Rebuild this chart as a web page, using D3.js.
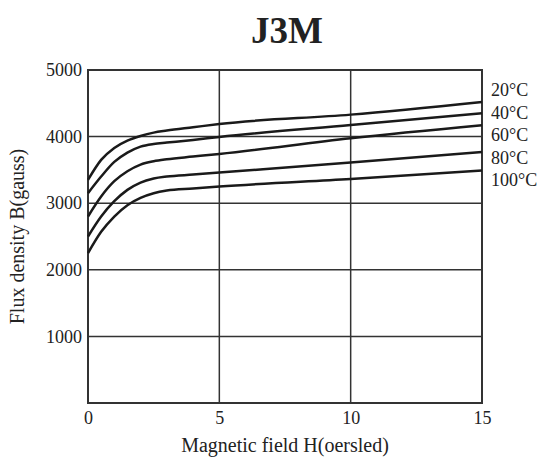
<!DOCTYPE html>
<html>
<head>
<meta charset="utf-8">
<script src="https://cdn.jsdelivr.net/npm/d3@7"></script>
<style>
  html, body { margin: 0; padding: 0; background: #fff; }
  svg text { font-family: "Liberation Serif", "DejaVu Serif", serif; fill: #222; }
</style>
</head>
<body>
<svg id="chart" width="543" height="471"></svg>
<script>
const width = 543, height = 471;
const margin = { top: 70, right: 61, bottom: 68, left: 88 };

// field strength H (oersted) samples
const fieldH = [0, 0.5, 1, 1.5, 2, 2.5, 3, 4, 5, 10, 15];

// flux density B (gauss) per temperature
const temps = ["20°C", "40°C", "60°C", "80°C", "100°C"];
const b20  = [3350, 3650, 3830, 3940, 4010, 4060, 4090, 4140, 4190, 4330, 4520];
const b40  = [3150, 3400, 3620, 3760, 3850, 3890, 3910, 3950, 3995, 4175, 4350];
const b60  = [2800, 3100, 3330, 3480, 3580, 3630, 3660, 3700, 3740, 3975, 4170];
const b80  = [2500, 2800, 3030, 3200, 3310, 3370, 3400, 3430, 3460, 3610, 3770];
const b100 = [2250, 2570, 2800, 2970, 3080, 3150, 3190, 3220, 3250, 3365, 3490];
const seriesValues = [b20, b40, b60, b80, b100];

const xTicks = [0, 5, 10, 15];
const yTicks = [1000, 2000, 3000, 4000, 5000];

const svg = d3.select("#chart");
const plotW = width - margin.left - margin.right,
      plotH = height - margin.top - margin.bottom;

const x = d3.scaleLinear().domain([0, 15]).range([margin.left, margin.left + plotW]);
const y = d3.scaleLinear().domain([0, 5000]).range([margin.top + plotH, margin.top]);

// title
svg.append("text")
    .attr("x", 287)
    .attr("y", 43)
    .attr("text-anchor", "middle")
    .style("font-size", "37px")
    .style("font-weight", "bold")
    .text("J3M");

// grid lines
svg.append("g").selectAll("line")
    .data(xTicks.slice(1, -1))
    .enter().append("line")
    .attr("x1", d => x(d)).attr("x2", d => x(d))
    .attr("y1", y(0)).attr("y2", y(5000))
    .attr("stroke", "#333").attr("stroke-width", 1.5);

svg.append("g").selectAll("line")
    .data(yTicks.slice(0, -1))
    .enter().append("line")
    .attr("x1", x(0)).attr("x2", x(15))
    .attr("y1", d => y(d)).attr("y2", d => y(d))
    .attr("stroke", "#333").attr("stroke-width", 1.5);

// frame
svg.append("rect")
    .attr("x", x(0)).attr("y", y(5000))
    .attr("width", x(15) - x(0)).attr("height", y(0) - y(5000))
    .attr("fill", "none").attr("stroke", "#333").attr("stroke-width", 2);

// axes (labels only, the frame draws the lines)
const xAxis = svg.append("g")
    .attr("transform", `translate(0,${y(0)})`)
    .call(d3.axisBottom(x).tickValues(xTicks).tickSize(0).tickPadding(8));
xAxis.select(".domain").remove();
xAxis.selectAll("text").style("font-size", "18px").attr("fill", "#222");

const yAxis = svg.append("g")
    .attr("transform", `translate(${x(0)},0)`)
    .call(d3.axisLeft(y).tickValues(yTicks).tickFormat(d3.format("d")).tickSize(0).tickPadding(6));
yAxis.select(".domain").remove();
yAxis.selectAll("text").style("font-size", "18px").attr("fill", "#222");

// curves
const line = d3.line()
    .x((d, i) => x(fieldH[i]))
    .y(d => y(d))
    .curve(d3.curveMonotoneX);

svg.append("g").selectAll("path")
    .data(seriesValues)
    .enter().append("path")
    .attr("d", d => line(d))
    .attr("fill", "none")
    .attr("stroke", "#1a1a1a")
    .attr("stroke-width", 2.5);

// temperature labels
svg.append("g").selectAll("text")
    .data(temps)
    .enter().append("text")
    .attr("x", 491)
    .attr("y", (d, i) => 96 + i * 22.5)
    .style("font-size", "18px")
    .text(d => d);

// axis titles
svg.append("text")
    .attr("x", (x(0) + x(15)) / 2)
    .attr("y", 452)
    .attr("text-anchor", "middle")
    .style("font-size", "20px")
    .text("Magnetic field H(oersled)");

svg.append("text")
    .attr("transform", `translate(24,${(y(0) + y(5000)) / 2}) rotate(-90)`)
    .attr("text-anchor", "middle")
    .style("font-size", "20px")
    .text("Flux density B(gauss)");
</script>
</body>
</html>
